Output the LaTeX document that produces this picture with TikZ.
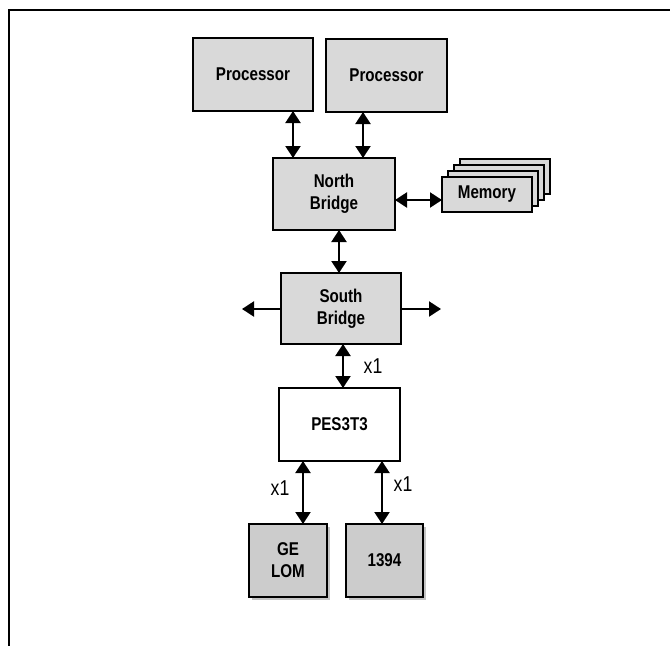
\documentclass[tikz,border=0pt]{standalone}
\usepackage{fontspec}
\setmainfont[FakeStretch=0.82]{Liberation Sans}
\newfontfamily\lblfont[FakeStretch=0.82]{Liberation Sans}
\usetikzlibrary{arrows.meta}
\definecolor{boxgray}{HTML}{D9D9D9}
\definecolor{darkbox}{HTML}{CCCCCC}
\definecolor{shadowgray}{HTML}{C4C4C4}
\begin{document}
\begin{tikzpicture}[x=1pt,y=-1pt,
  blk/.style={draw=black, line width=2pt, fill=boxgray, rectangle, outer sep=0pt, inner sep=0pt,
    align=center, font=\fontsize{18.5}{22}\selectfont\bfseries},
  whiteblk/.style={blk, fill=white},
  darkblk/.style={blk, fill=darkbox},
  biarrow/.style={line width=2.2pt, {Triangle[width=15pt,length=12pt]}-{Triangle[width=15pt,length=12pt]}},
  outarrow/.style={line width=2.2pt, -{Triangle[width=15pt,length=12pt]}},
  lbl/.style={font=\lblfont\fontsize{21.5}{22}\selectfont, inner sep=0pt},
  frameline/.style={line width=1.6pt}
]
\useasboundingbox (0,0) rectangle (670,646);
% frame
\coordinate (fr1) at (670,10);
\coordinate (fr2) at (9,10);
\coordinate (fr3) at (9,646);
\draw[frameline] (fr1) -- (fr2) -- (fr3);

% processors
\node[blk, minimum width=120pt, minimum height=73pt] (p1) at (253,74.5) {Processor};
\node[blk, minimum width=121pt, minimum height=73pt] (p2) at (386.5,75.5) {Processor};
% north bridge
\node[blk, minimum width=122pt, minimum height=72pt] (nb) at (334,194) {North\\Bridge};
% memory stack
\foreach \k in {3,2,1} {
  \draw[line width=2pt, fill=boxgray] (442+6*\k,177-6*\k) rectangle (532+6*\k,212-6*\k);
}
\node[blk, minimum width=90pt, minimum height=35pt] (mem) at (487,194.5) {Memory};
% south bridge
\node[blk, minimum width=120pt, minimum height=71pt] (sb) at (341,308.5) {South\\Bridge};
% PES3T3
\node[whiteblk, minimum width=121pt, minimum height=73pt] (pes) at (339.5,424.5) {PES3T3};
% bottom boxes with shadow
\fill[shadowgray] (252,527) rectangle (330,600);
\fill[shadowgray] (349,527) rectangle (426,600);
\node[darkblk, minimum width=78pt, minimum height=73pt] (ge) at (288,560.5) {GE\\LOM};
\node[darkblk, minimum width=77pt, minimum height=73pt] (fw) at (384.5,560.5) {1394};

% connector x positions
\coordinate (c1) at (293,0);
\coordinate (c2) at (363,0);
\coordinate (c3) at (339,0);
\coordinate (c4) at (343,0);
\coordinate (c5) at (303,0);
\coordinate (c6) at (382,0);
\coordinate (ym) at (0,200);
\coordinate (ys) at (0,309);
\coordinate (sl) at (242,309);
\coordinate (sr) at (441,309);

\draw[biarrow] (p1.south -| c1) -- (nb.north -| c1);
\draw[biarrow] (p2.south -| c2) -- (nb.north -| c2);
\draw[biarrow] (nb.east |- ym) -- (mem.west |- ym);
\draw[biarrow] (nb.south -| c3) -- (sb.north -| c3);
\draw[outarrow] (sb.west |- ys) -- (sl);
\draw[outarrow] (sb.east |- ys) -- (sr);
\draw[biarrow] (sb.south -| c4) -- (pes.north -| c4);
\draw[biarrow] (pes.south -| c5) -- (ge.north -| c5);
\draw[biarrow] (pes.south -| c6) -- (fw.north -| c6);

\node[lbl] (l1) at (373,366) {x1};
\node[lbl] (l2) at (280,488) {x1};
\node[lbl] (l3) at (403,484) {x1};
\end{tikzpicture}
\end{document}
